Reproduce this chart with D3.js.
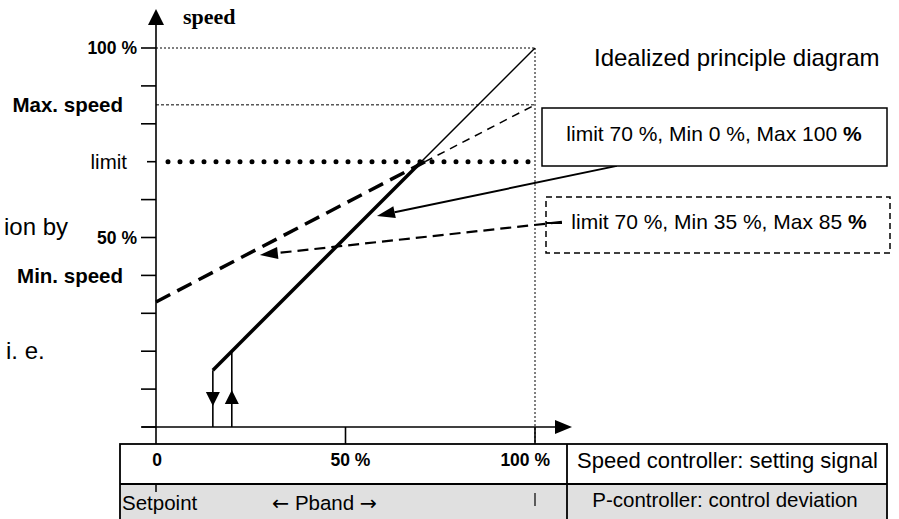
<!DOCTYPE html>
<html><head><meta charset="utf-8">
<script src="https://cdn.jsdelivr.net/npm/d3@7"></script>
<style>body{margin:0;background:#fff}svg{display:block}text{fill:#000}</style>
</head><body>
<svg id="c" width="899" height="519" font-family="'Liberation Sans',Arial,sans-serif"></svg>
<script>
// ---- data ----
const yTicks = [0,10,20,30,40,50,60,70,80,90,100];
const yLabelValues = [100, 85, 70, 50, 40];
const yLabelTexts = ["100 %", "Max. speed", "limit", "50 %", "Min. speed"];
const yLabelBold = [true, true, false, true, true];
const xTicks = [0, 50, 100];
const xTickLabels = ["0", "50 %", "100 %"];
const limitValue = 70;
const maxSpeed = 85;
const hysteresisOff = 15;
const hysteresisOn = 20;
// characteristic 1: limit 70, Min 0, Max 100
const solidHeavy = [[15,15],[70,70]];
const solidThin = [[70,70],[100,100]];
// characteristic 2: limit 70, Min 35, Max 85
const dashHeavy = [[0,33],[71,70]];
const dashThin = [[71,70],[100,85]];
// callout arrows [from, to] in data units
const arrowSolid = [[121.6,68.9],[58.3,55.7]];
const arrowDashed = [[107.1,54.1],[27.4,45.4]];

const svg = d3.select("#c");
const x = d3.scaleLinear().domain([0,100]).range([156,535]);
const y = d3.scaleLinear().domain([0,100]).range([427,48]);
const line = d3.line().x(d=>x(d[0])).y(d=>y(d[1]));

// guide lines
svg.append("line").attr("x1",x(0)).attr("x2",x(100)).attr("y1",y(100)).attr("y2",y(100))
  .attr("stroke","#000").attr("stroke-width",1).attr("stroke-dasharray","2,2");
svg.append("line").attr("x1",x(0)).attr("x2",x(100)).attr("y1",y(maxSpeed)).attr("y2",y(maxSpeed))
  .attr("stroke","#000").attr("stroke-width",1).attr("stroke-dasharray","3,2");
svg.append("line").attr("x1",x(100)).attr("x2",x(100)).attr("y1",y(100)).attr("y2",444)
  .attr("stroke","#000").attr("stroke-width",1).attr("stroke-dasharray","2,2");

// limit dotted line
svg.append("line").attr("x1",x(0)+12).attr("x2",x(100)-4).attr("y1",y(limitValue)).attr("y2",y(limitValue))
  .attr("stroke","#000").attr("stroke-width",5).attr("stroke-linecap","round").attr("stroke-dasharray","0,12");

// y axis
svg.append("line").attr("x1",x(0)).attr("x2",x(0)).attr("y1",22).attr("y2",444).attr("stroke","#000").attr("stroke-width",1.6);
svg.append("path").attr("d",`M${x(0)},9 L${x(0)-8},25 L${x(0)+8},25 Z`).attr("fill","#000");
svg.selectAll(".yt").data(yTicks).enter().append("line")
  .attr("x1",d=>d===limitValue?147:141).attr("x2",x(0)).attr("y1",d=>y(d)).attr("y2",d=>y(d))
  .attr("stroke","#000").attr("stroke-width",1.6);
svg.selectAll(".yl").data(yLabelValues).enter().append("text")
  .attr("x",(d,i)=>yLabelBold[i] ? (i===0||i===3?137:123) : 127)
  .attr("y",d=>y(d)).attr("dy","0.36em").attr("text-anchor","end")
  .attr("font-weight",(d,i)=>yLabelBold[i]?"bold":"normal")
  .attr("font-size",(d,i)=>(i===0||i===3)?"17.5px":"20.5px")
  .text((d,i)=>yLabelTexts[i]);
svg.append("text").attr("x",183).attr("y",24).attr("font-family","'Liberation Serif','Times New Roman',serif")
  .attr("font-weight","bold").attr("font-size","22px").text("speed");

// x axis
svg.append("line").attr("x1",142).attr("x2",560).attr("y1",y(0)).attr("y2",y(0)).attr("stroke","#000").attr("stroke-width",1.6);
svg.append("path").attr("d",`M572,${y(0)} L555,${y(0)-7} L555,${y(0)+7} Z`).attr("fill","#000");
svg.selectAll(".xt").data(xTicks.slice(1)).enter().append("line")
  .attr("x1",d=>x(d)).attr("x2",d=>x(d)).attr("y1",y(0)).attr("y2",444).attr("stroke","#000").attr("stroke-width",1.6);

// characteristic lines
svg.append("path").attr("d",line(dashHeavy)).attr("fill","none").attr("stroke","#000").attr("stroke-width",3.5).attr("stroke-dasharray","16,8");
svg.append("path").attr("d",line(dashThin)).attr("fill","none").attr("stroke","#000").attr("stroke-width",1.5).attr("stroke-dasharray","8,6");
svg.append("path").attr("d",line(solidHeavy)).attr("fill","none").attr("stroke","#000").attr("stroke-width",3.5);
svg.append("path").attr("d",line(solidThin)).attr("fill","none").attr("stroke","#000").attr("stroke-width",1.5);

// hysteresis
svg.append("line").attr("x1",x(hysteresisOff)).attr("x2",x(hysteresisOff)).attr("y1",y(hysteresisOff)).attr("y2",y(0)).attr("stroke","#000").attr("stroke-width",1.6);
svg.append("line").attr("x1",x(hysteresisOn)).attr("x2",x(hysteresisOn)).attr("y1",y(hysteresisOn)).attr("y2",y(0)).attr("stroke","#000").attr("stroke-width",1.6);
svg.append("path").attr("d",`M${x(hysteresisOff)-7},392 L${x(hysteresisOff)+7},392 L${x(hysteresisOff)},406 Z`).attr("fill","#000");
svg.append("path").attr("d",`M${x(hysteresisOn)-7},404 L${x(hysteresisOn)+7},404 L${x(hysteresisOn)},390 Z`).attr("fill","#000");

// callout arrows
function arrowHead(a, len, w){
  const [p0,p1]=a; const x0=x(p0[0]),y0=y(p0[1]),x1=x(p1[0]),y1=y(p1[1]);
  const ang=Math.atan2(y1-y0,x1-x0);
  const bx=x1-len*Math.cos(ang), by=y1-len*Math.sin(ang);
  const nx=-Math.sin(ang)*w, ny=Math.cos(ang)*w;
  return {d:`M${x1},${y1} L${bx+nx},${by+ny} L${bx-nx},${by-ny} Z`, bx, by};
}
let h1=arrowHead(arrowSolid,18,6);
svg.append("line").attr("x1",x(arrowSolid[0][0])).attr("y1",y(arrowSolid[0][1])).attr("x2",h1.bx).attr("y2",h1.by).attr("stroke","#000").attr("stroke-width",2);
svg.append("path").attr("d",h1.d).attr("fill","#000");
let h2=arrowHead(arrowDashed,18,6);
svg.append("line").attr("x1",x(arrowDashed[0][0])).attr("y1",y(arrowDashed[0][1])).attr("x2",h2.bx).attr("y2",h2.by).attr("stroke","#000").attr("stroke-width",2.2).attr("stroke-dasharray","11,6");
svg.append("path").attr("d",h2.d).attr("fill","#000");

// callout boxes
svg.append("rect").attr("x",542).attr("y",108).attr("width",345).attr("height",58).attr("fill","#fff").attr("stroke","#000").attr("stroke-width",1.5);
let t1=svg.append("text").attr("x",714).attr("y",133).attr("dy","0.36em").attr("text-anchor","middle").attr("font-size","21px");
t1.append("tspan").text("limit 70 %, Min 0 %, Max 100 ");
t1.append("tspan").attr("font-weight","bold").text("%");
svg.append("rect").attr("x",546).attr("y",197).attr("width",344).attr("height",56).attr("fill","none").attr("stroke","#000").attr("stroke-width",1.5).attr("stroke-dasharray","6,4");
svg.append("line").attr("x1",546).attr("x2",562).attr("y1",223).attr("y2",223).attr("stroke","#000").attr("stroke-width",2);
let t2=svg.append("text").attr("x",719).attr("y",221).attr("dy","0.36em").attr("text-anchor","middle").attr("font-size","21px");
t2.append("tspan").text("limit 70 %, Min 35 %, Max 85 ");
t2.append("tspan").attr("font-weight","bold").text("%");

svg.append("text").attr("x",594).attr("y",57).attr("dy","0.36em").attr("font-size","24px").text("Idealized principle diagram");
svg.append("text").attr("x",68).attr("y",226).attr("dy","0.36em").attr("text-anchor","end").attr("font-size","24px").text("ion by");
svg.append("text").attr("x",6).attr("y",350).attr("dy","0.36em").attr("font-size","24px").text("i. e.");

// table
svg.append("rect").attr("x",120).attr("y",484).attr("width",767).attr("height",40).attr("fill","#e0e0e0");
svg.append("rect").attr("x",120).attr("y",444).attr("width",767).attr("height",80).attr("fill","none").attr("stroke","#000").attr("stroke-width",1.8);
svg.append("line").attr("x1",120).attr("x2",887).attr("y1",484).attr("y2",484).attr("stroke","#000").attr("stroke-width",1.8);
svg.append("line").attr("x1",567).attr("x2",567).attr("y1",444).attr("y2",524).attr("stroke","#000").attr("stroke-width",1.8);
svg.selectAll(".xl").data(xTicks).enter().append("text")
  .attr("x",(d,i)=>i===0?x(d)+1:(i===1?x(d)+5:x(d)+15)).attr("y",460).attr("dy","0.36em")
  .attr("text-anchor",(d,i)=>i===2?"end":"middle").attr("font-weight","bold").attr("font-size","17.5px")
  .text((d,i)=>xTickLabels[i]);
svg.append("line").attr("x1",x(0)).attr("x2",x(0)).attr("y1",484).attr("y2",492).attr("stroke","#000").attr("stroke-width",1.5);
svg.append("line").attr("x1",x(100)).attr("x2",x(100)).attr("y1",493).attr("y2",506).attr("stroke","#000").attr("stroke-width",1.2);
svg.append("text").attr("x",122).attr("y",503).attr("dy","0.36em").attr("font-size","20.5px").text("Setpoint");
const pb = svg.append("text").attr("x",272).attr("y",503).attr("dy","0.36em").attr("font-size","20.5px");
pb.append("tspan").attr("font-family","'DejaVu Sans',sans-serif").text("\u2190");
pb.append("tspan").text(" Pband ");
pb.append("tspan").attr("font-family","'DejaVu Sans',sans-serif").text("\u2192");
svg.append("text").attr("x",577).attr("y",460).attr("dy","0.36em").attr("font-size","22px").text("Speed controller: setting signal");
svg.append("text").attr("x",725).attr("y",500).attr("dy","0.36em").attr("text-anchor","middle").attr("font-size","20.5px").text("P-controller: control deviation");
</script>
</body></html>
